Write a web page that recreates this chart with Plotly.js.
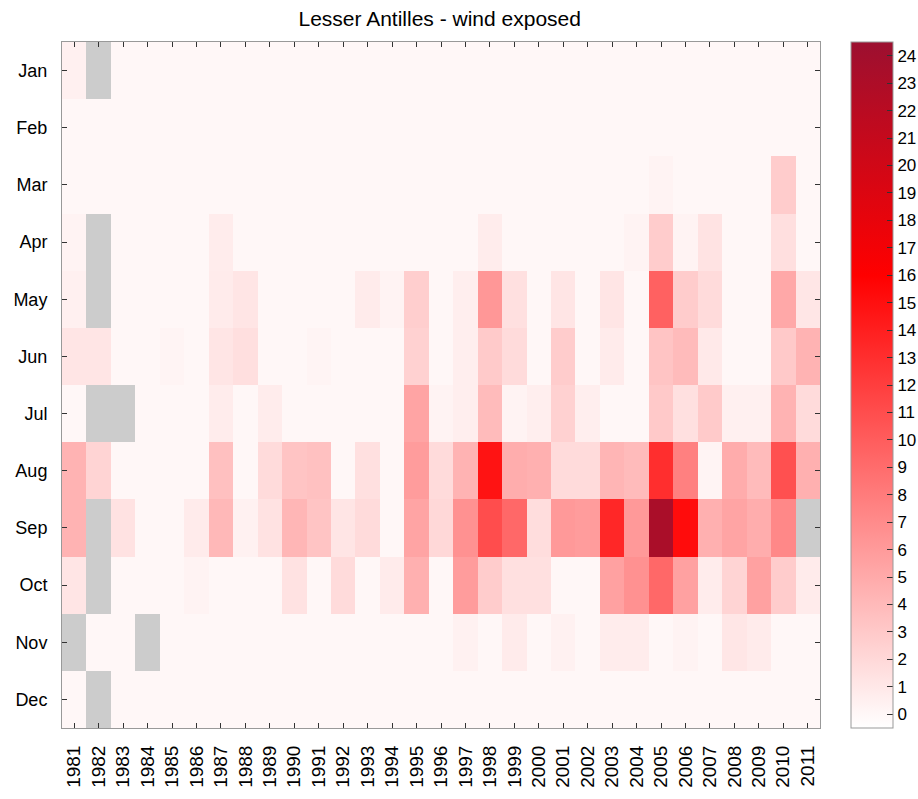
<!DOCTYPE html>
<html>
<head>
<meta charset="utf-8">
<script src="https://cdn.plot.ly/plotly-3.0.1.min.js"></script>
<style>
html,body{margin:0;padding:0;background:#fff;}
#chart{width:918px;height:799px;}
</style>
</head>
<body>
<div id="chart"></div>
<script>
const years = ["1981","1982","1983","1984","1985","1986","1987","1988","1989","1990",
  "1991","1992","1993","1994","1995","1996","1997","1998","1999","2000",
  "2001","2002","2003","2004","2005","2006","2007","2008","2009","2010","2011"];
const months = ["Jan","Feb","Mar","Apr","May","Jun","Jul","Aug","Sep","Oct","Nov","Dec"];

const jan = [0.5,null,0,0,0,0,0,0,0,0, 0,0,0,0,0,0,0,0,0,0, 0,0,0,0,0,0,0,0,0,0, 0];
const feb = [0,0,0,0,0,0,0,0,0,0, 0,0,0,0,0,0,0,0,0,0, 0,0,0,0,0,0,0,0,0,0, 0];
const mar = [0,0,0,0,0,0,0,0,0,0, 0,0,0,0,0,0,0,0,0,0, 0,0,0,0,0.3,0,0,0,0,2.8, 0];
const apr = [0.3,null,0,0,0,0,0.7,0,0,0, 0,0,0,0,0,0,0,0.7,0,0, 0,0,0,0.3,2.8,0.3,1.3,0,0,1.6, 0];
const may = [0.5,null,0,0,0,0,0.8,1.2,0,0, 0,0,0.8,0.3,2.7,0,0.6,6.2,1.5,0, 1.2,0,1.2,0,9.7,2.8,1.8,0,0,5.1, 1.1];
const jun = [1.2,1.2,0,0,0.2,0,1.2,1.6,0,0, 0.2,0,0,0,2.5,0,0.6,2.9,1.8,0, 2.8,0,0.8,0,3.3,3.9,0.9,0,0,3.0, 4.4];
const jul = [0,null,null,0,0,0,0.7,0,0.7,0, 0,0,0,0,5.4,0.3,0.6,3.9,0.3,0.6, 2.5,0.6,0,0,3.0,1.5,2.9,0.5,0.5,4.4, 1.8];
const aug = [4.4,2.3,0,0,0,0,3.6,0,1.8,3.3, 3.5,0,1.5,0,5.9,1.8,4.4,14.8,4.8,4.6, 1.8,1.8,4.3,3.9,13.0,7.7,0.2,4.9,3.9,10.8, 4.6];
const sep = [4.4,null,1.4,0,0,0.8,4.1,0.4,1.4,4.2, 3.3,1.2,1.8,0,5.4,2.0,6.6,11.0,9.3,1.7, 6.1,5.9,13.5,6.1,23.3,15.2,4.6,5.4,4.8,7.2, null];
const oct = [1.2,null,0,0,0,0.3,0,0,0,1.4, 0,1.8,0,0.8,4.6,0,5.9,2.8,1.5,1.5, 0,0,5.6,6.6,9.3,5.6,0.7,2.3,5.6,2.8, 0.8];
const nov = [null,0,0,null,0,0,0,0,0,0, 0,0,0,0,0,0,0.4,0,0.8,0, 0.4,0,0.7,0.7,0,0.3,0,1.1,0.8,0, 0];
const dec = [0,null,0,0,0,0,0,0,0,0, 0,0,0,0,0,0,0,0,0,0, 0,0,0,0,0,0,0,0,0,0, 0];

const z = [jan,feb,mar,apr,may,jun,jul,aug,sep,oct,nov,dec];
const cbTicks = [0,1,2,3,4,5,6,7,8,9,10,11,12,13,14,15,16,17,18,19,20,21,22,23,24];
const FONT = 'Liberation Sans, Arial, sans-serif';

const trace = {
  type: 'heatmap',
  x: years,
  y: months,
  z: z,
  zmin: -0.5,
  zmax: 24.5,
  colorscale: [[0,'#ffffff'],[0.66,'#ff0000'],[1,'#9c1030']],
  hoverongaps: false,
  colorbar: {
    x: 1.041, xanchor: 'left', xref: 'paper',
    y: 0.5, yanchor: 'middle', len: 1, lenmode: 'fraction',
    thickness: 42, thicknessmode: 'pixels',
    outlinecolor: '#999', outlinewidth: 1,
    tickvals: cbTicks,
    ticktext: cbTicks.map(String),
    ticks: 'inside', ticklen: 6, tickcolor: '#333',
    tickfont: {family: FONT, size: 17, color: '#000'},
    xpad: 0, ypad: 0
  }
};

const layout = {
  width: 918, height: 799,
  margin: {l: 62, r: 98, t: 42, b: 71, autoexpand: false},
  paper_bgcolor: '#ffffff',
  plot_bgcolor: '#cccccc',
  title: {text: 'Lesser Antilles - wind exposed', x: 0.479, xanchor: 'center', y: 0.977, yanchor: 'middle',
          font: {family: FONT, size: 21, color: '#000'}},
  xaxis: {
    type: 'category', tickangle: -90, ticks: 'inside', ticklen: 5, tickcolor: '#333',
    showline: true, linecolor: '#999', mirror: 'allticks',
    tickfont: {family: FONT, size: 19, color: '#000'},
    showgrid: false, zeroline: false, ticklabelstandoff: 9
  },
  yaxis: {
    type: 'category', autorange: 'reversed', ticks: 'inside', ticklen: 5, tickcolor: '#333',
    showline: true, linecolor: '#999', mirror: 'allticks',
    tickfont: {family: FONT, size: 18, color: '#000'},
    showgrid: false, zeroline: false, ticklabelstandoff: 10
  }
};

Plotly.newPlot('chart', [trace], layout, {displayModeBar: false, staticPlot: true});
</script>
</body>
</html>
